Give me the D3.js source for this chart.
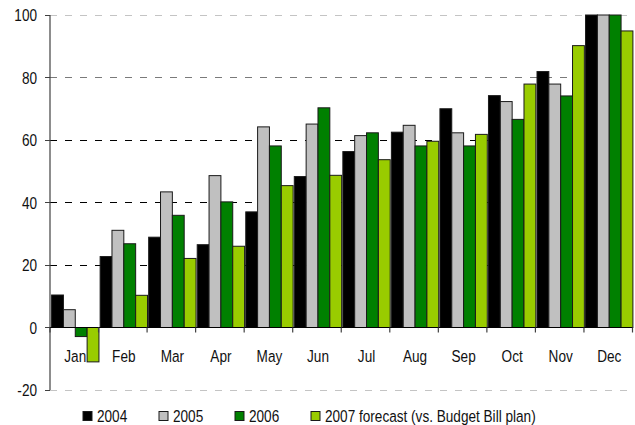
<!DOCTYPE html>
<html>
<head>
  <meta charset="utf-8">
  <script src="https://d3js.org/d3.v7.min.js"></script>
  <style>
  body { margin: 0; background: #fff; }
  text { font-family: "Liberation Sans", Arial, sans-serif; font-size: 17px; fill: #111; }
  </style>
</head>
<body>
<div id="chart"></div>
<script>
// data
var months = ["Jan","Feb","Mar","Apr","May","Jun","Jul","Aug","Sep","Oct","Nov","Dec"];
var seriesNames = ["2004","2005","2006","2007 forecast (vs. Budget Bill plan)"];
var v2004 = [10.4, 22.7, 28.9, 26.5, 37.0, 48.3, 56.3, 62.5, 70.0, 74.2, 81.9, 100];
var v2005 = [5.7, 31.1, 43.4, 48.6, 64.2, 65.1, 61.4, 64.7, 62.3, 72.3, 77.9, 100];
var v2006 = [-2.9, 26.8, 35.9, 40.2, 58.1, 70.3, 62.3, 58.1, 58.1, 66.6, 74.1, 100];
var v2007 = [-11.0, 10.3, 22.1, 26.0, 45.4, 48.7, 53.7, 59.6, 61.8, 77.9, 90.2, 94.9];
var yTicks = [-20, 0, 20, 40, 60, 80, 100];

var W = 635, H = 425;
var colors = ["#000000", "#c0c0c0", "#008000", "#99cc00"];
var SX = 0.8; // text in the source is squeezed sideways

var svg = d3.select("#chart").append("svg")
  .attr("width", W).attr("height", H);

var x = d3.scaleBand().domain(months).range([50, 632.5]).paddingInner(0).paddingOuter(0);
var xs = d3.scaleBand().domain([0,1,2,3]).range([0, x.bandwidth()]).paddingOuter(0.05);
var y = d3.scaleLinear().domain([-20, 100]).range([390, 15]);

function sqText(sel, tx, ty, str, anchor) {
  sel.append("text")
    .attr("transform", "translate(" + tx + "," + ty + ") scale(" + SX + ",1)")
    .attr("text-anchor", anchor || "start")
    .text(str);
}

// gridlines (they stop at different places in the source)
var gridStyle = {
  "-20": {c: "#c4c4c4", end: x.range()[1] - 4},
  "20": {c: "#000", end: x("Nov")},
  "40": {c: "#000", end: x("Nov")},
  "60": {c: "#000", end: x("Nov")},
  "80": {c: "#7a7a7a", end: x("Nov") + x.bandwidth() * 0.65},
  "100": {c: "#c4c4c4", end: x.range()[1] - 4}
};
yTicks.filter(function(t){ return t !== 0; }).forEach(function(t) {
  svg.append("line")
    .attr("x1", 50).attr("x2", gridStyle[t].end)
    .attr("y1", y(t)).attr("y2", y(t))
    .attr("stroke", gridStyle[t].c).attr("stroke-width", 1)
    .attr("stroke-dasharray", "7,8")
    .attr("shape-rendering", "crispEdges");
});

// month labels (drawn under the bars, as in the source)
var xl = svg.append("g");
months.forEach(function(m) {
  sqText(xl, x(m) + x.bandwidth() / 2 + 1, 362, m, "middle");
});

// bars
var all = [v2004, v2005, v2006, v2007];
all.forEach(function(vals, si) {
  svg.append("g").selectAll("rect")
    .data(vals)
    .join("rect")
    .attr("x", function(d, i) { return x(months[i]) + xs(si) + 1; })
    .attr("width", xs.bandwidth())
    .attr("y", function(d) { return y(Math.max(0, d)); })
    .attr("height", function(d) { return Math.abs(y(d) - y(0)); })
    .attr("fill", colors[si])
    .attr("stroke", "#1a1a1a")
    .attr("stroke-width", 1);
});

// y axis
svg.append("line")
  .attr("x1", 50).attr("x2", 50).attr("y1", y(100)).attr("y2", y(-20))
  .attr("stroke", "#404040").attr("stroke-width", 1.2);
var yl = svg.append("g");
yTicks.forEach(function(t) {
  svg.append("line")
    .attr("x1", 45).attr("x2", 50).attr("y1", y(t)).attr("y2", y(t))
    .attr("stroke", "#404040").attr("shape-rendering", "crispEdges");
  sqText(yl, 37, y(t) + 6, String(t), "end");
});

// x axis at zero
svg.append("line")
  .attr("x1", 50).attr("x2", 632.5).attr("y1", y(0)).attr("y2", y(0))
  .attr("stroke", "#000").attr("stroke-width", 1.2);
months.concat(["end"]).forEach(function(m, i) {
  var tx = i < months.length ? x(m) : x.range()[1];
  svg.append("line")
    .attr("x1", tx).attr("x2", tx).attr("y1", y(0)).attr("y2", y(0) + 5)
    .attr("stroke", "#404040").attr("stroke-width", 1.2);
});

// legend
var lg = svg.append("g");
var legX = [83, 159, 235, 311];
seriesNames.forEach(function(s, i) {
  lg.append("rect")
    .attr("x", legX[i]).attr("y", 411.5).attr("width", 9).attr("height", 9)
    .attr("fill", colors[i]).attr("stroke", "#1a1a1a").attr("stroke-width", 1);
  sqText(lg, legX[i] + 14, 422, s, "start");
});
</script>
</body>
</html>
